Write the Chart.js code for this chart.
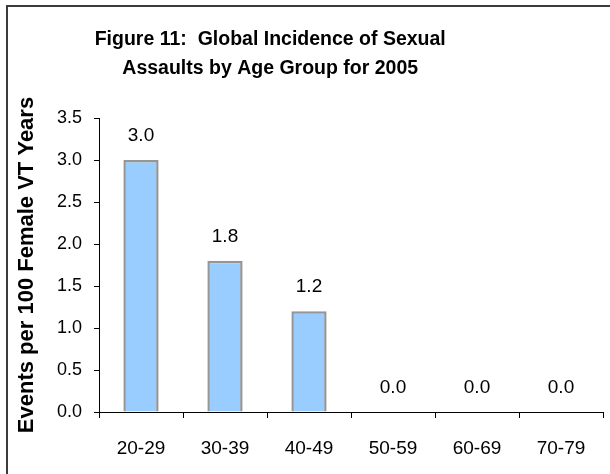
<!DOCTYPE html>
<html>
<head>
<meta charset="utf-8">
<script src="https://cdn.jsdelivr.net/npm/chart.js@4/dist/chart.umd.min.js"></script>
<style>
  html, body { margin: 0; padding: 0; background: #ffffff; }
  #wrap { position: relative; width: 610px; height: 474px; overflow: hidden; }
  #frame {
    position: absolute; left: 6px; top: 5px; width: 700px; height: 600px;
    border-left: 2px solid #3c3c3c; border-top: 2px solid #3c3c3c;
  }
  #c { position: absolute; left: 0; top: 0; }
</style>
</head>
<body>
<div id="wrap">
  <div id="frame"></div>
  <canvas id="c" width="610" height="474"></canvas>
</div>
<script>
// Age groups and incidence (events per 100 female VT years), 2005
const ageGroups = ['20-29', '30-39', '40-49', '50-59', '60-69', '70-79'];
const incidence = [3.0, 1.8, 1.2, 0.0, 0.0, 0.0];
const titleLines = ['Figure 11:  Global Incidence of Sexual', 'Assaults by Age Group for 2005'];
const yAxisTitle = 'Events per 100 Female VT Years';

const FONT = "'Liberation Sans', Arial, Helvetica, sans-serif";

// Two-line heading drawn onto the canvas
const headingPlugin = {
  id: 'heading',
  afterDraw(chart) {
    const ctx = chart.ctx;
    ctx.save();
    ctx.font = 'bold 19.5px ' + FONT;
    ctx.fillStyle = '#000';
    ctx.textAlign = 'center';
    ctx.textBaseline = 'middle';
    const cx = chart.width * 0.443;
    titleLines.forEach((line, i) => ctx.fillText(line, cx, 40 + i * 29));
    ctx.restore();
  }
};

// Value labels above each bar
const valueLabels = {
  id: 'valueLabels',
  afterDatasetsDraw(chart) {
    const ctx = chart.ctx;
    const meta = chart.getDatasetMeta(0);
    ctx.save();
    ctx.font = '19px ' + FONT;
    ctx.fillStyle = '#000';
    ctx.textAlign = 'center';
    ctx.textBaseline = 'middle';
    meta.data.forEach((bar, i) => {
      ctx.fillText(incidence[i].toFixed(1), bar.x, bar.y - 24);
    });
    ctx.restore();
  }
};

new Chart(document.getElementById('c'), {
  type: 'bar',
  data: {
    labels: ageGroups,
    datasets: [{
      data: incidence,
      backgroundColor: '#99ccff',
      borderColor: '#969696',
      borderWidth: 2.5,
      borderSkipped: 'bottom',
      categoryPercentage: 1.0,
      barPercentage: 0.42
    }]
  },
  options: {
    responsive: false,
    animation: false,
    layout: { padding: { top: 118, right: 7, bottom: 0, left: 0 } },
    plugins: {
      legend: { display: false },
      tooltip: { enabled: false },
      title: { display: false }
    },
    scales: {
      x: {
        offset: true,
        grid: {
          offset: true,
          drawOnChartArea: false,
          drawTicks: true,
          tickLength: 6,
          color: '#000'
        },
        border: { color: '#000', width: 1 },
        ticks: {
          color: '#000',
          font: { family: FONT, size: 19 },
          padding: 19,
          maxRotation: 0
        },
        afterFit(scale) { scale.height = 62; }
      },
      y: {
        min: 0,
        max: 3.5,
        ticks: {
          stepSize: 0.5,
          color: '#000',
          font: { family: FONT, size: 18 },
          padding: 12,
          callback: v => Number(v).toFixed(1)
        },
        grid: {
          drawOnChartArea: false,
          drawTicks: true,
          tickLength: 5,
          color: '#000'
        },
        border: { color: '#000', width: 1 },
        title: {
          display: true,
          text: yAxisTitle,
          color: '#000',
          font: { family: FONT, size: 22, weight: 'bold' },
          padding: { top: 14, bottom: 0 }
        },
        afterFit(scale) { scale.width = 99; }
      }
    }
  },
  plugins: [headingPlugin, valueLabels]
});
</script>
</body>
</html>
